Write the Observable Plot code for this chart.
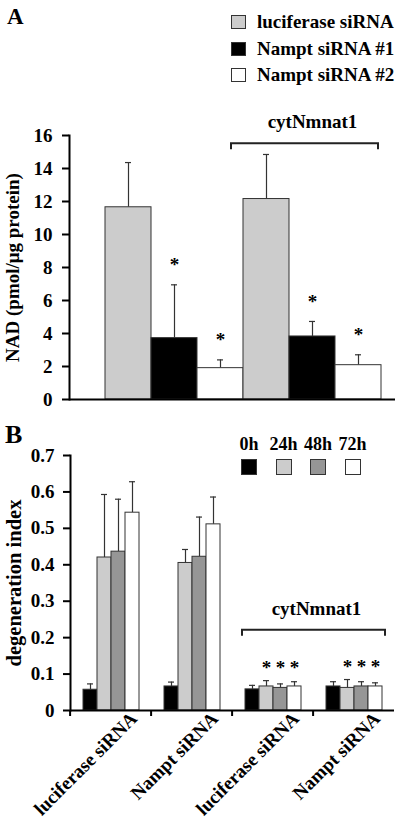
<!DOCTYPE html>
<html><head><meta charset="utf-8">
<script src="https://cdn.jsdelivr.net/npm/d3@7"></script>
<script src="https://cdn.jsdelivr.net/npm/@observablehq/plot@0.6"></script>
<style>
body{margin:0;background:#fff;}
#root{position:relative;width:400px;height:820px;overflow:hidden;font-family:"Liberation Serif","Times New Roman",serif;font-weight:bold;color:#000;}
#root > svg{position:absolute;left:0;}
.abs{position:absolute;white-space:nowrap;}
.sw{box-sizing:border-box;border:1px solid #333;}
</style></head><body><div id="root"></div>
<script>
const SERIF = '"Liberation Serif","Times New Roman",serif';

// ---------- Panel A data ----------
const panelLabelA = "A";
const seriesA = ["luciferase siRNA", "Nampt siRNA #1", "Nampt siRNA #2"];
const conditionsA = ["control", "cytNmnat1"];
const nadMean = [11.65, 3.72, 1.90, 12.15, 3.82, 2.08];
const nadErr  = [2.71, 3.23, 0.50, 2.70, 0.91, 0.63];
const nadSig  = [false, true, true, false, true, true];
const yTicksA = [0, 2, 4, 6, 8, 10, 12, 14, 16];
const yLabelA = "NAD (pmol/μg protein)";
const bracketLabel = "cytNmnat1";
const colorsA = ["#cccccc", "#000000", "#ffffff"];

// ---------- Panel B data ----------
const panelLabelB = "B";
const timesB = ["0h", "24h", "48h", "72h"];
const groupKeysB = ["ctl-luc", "ctl-nampt", "cyt-luc", "cyt-nampt"];
const groupLabelsB = ["luciferase siRNA", "Nampt siRNA", "luciferase siRNA", "Nampt siRNA"];
const degMean = [
  [0.057, 0.420, 0.436, 0.543],
  [0.066, 0.405, 0.422, 0.511],
  [0.058, 0.066, 0.062, 0.066],
  [0.066, 0.062, 0.066, 0.066]
];
const degErr = [
  [0.016, 0.173, 0.144, 0.085],
  [0.012, 0.037, 0.109, 0.075],
  [0.011, 0.016, 0.011, 0.013],
  [0.013, 0.023, 0.013, 0.010]
];
const degSig = [
  [false, false, false, false],
  [false, false, false, false],
  [false, true, true, true],
  [false, true, true, true]
];
const yTicksB = [0, 0.1, 0.2, 0.3, 0.4, 0.5, 0.6, 0.7];
const yLabelB = "degeneration index";
const colorsB = ["#000000", "#cccccc", "#969696", "#ffffff"];

// ---------- tables ----------
const dataA = conditionsA.flatMap((c, ci) => seriesA.map((s, si) => {
  const i = ci * seriesA.length + si;
  return {key: c + "|" + s, cond: c, series: s, mean: nadMean[i], err: nadErr[i], sig: nadSig[i]};
}));
const dataB = groupKeysB.flatMap((g, gi) => timesB.map((t, ti) => ({
  group: g, time: t, mean: degMean[gi][ti], err: degErr[gi][ti], sig: degSig[gi][ti]
})));
const sigB = dataB.filter(d => d.sig);
const starTopB = d => d3.max(sigB.filter(e => e.group === d.group), e => e.mean + e.err);

const root = document.getElementById("root");
const baseStyle = {fontFamily: SERIF, fontSize: "19px", fontWeight: "bold", background: "transparent", overflow: "visible"};

function bracketNode(x1, x2, y, label, labelDx) {
  const g = d3.create("svg:g");
  g.append("path")
    .attr("d", `M${x1},${y + 6}V${y}H${x2}V${y + 6}`)
    .attr("fill", "none").attr("stroke", "#222").attr("stroke-width", 2);
  g.append("text")
    .attr("x", (x1 + x2) / 2 + labelDx).attr("y", y - 15)
    .attr("text-anchor", "middle").attr("font-size", 19).attr("font-weight", "bold")
    .attr("fill", "#000").text(label);
  return g.node();
}

// ---------- Panel A ----------
const cytA = dataA.filter(d => d.cond === "cytNmnat1");
const plotA = Plot.plot({
  width: 400, height: 410,
  marginTop: 135, marginBottom: 11, marginLeft: 69, marginRight: 5,
  style: baseStyle,
  x: {type: "band", domain: dataA.map(d => d.key), range: [103, 382], padding: 0, axis: null},
  y: {domain: [0, 16], axis: null},
  color: {domain: seriesA, range: colorsA},
  marks: [
    Plot.ruleX(dataA, {x: "key", y1: "mean", y2: d => d.mean + d.err, stroke: "#333", strokeWidth: 1.2}),
    Plot.tickY(dataA, {x: "key", y: d => d.mean + d.err, stroke: "#333", strokeWidth: 1.2, insetLeft: 20, insetRight: 20}),
    Plot.barY(dataA, {x: "key", y: "mean", fill: "series", stroke: "#333", strokeWidth: 1}),
    Plot.text(dataA.filter(d => d.sig), {x: "key", y: d => d.mean + d.err, text: () => "*", dy: -20, fontSize: 19}),
    Plot.ruleY([0], {strokeWidth: 2}),
    Plot.frame({anchor: "left", strokeWidth: 2}),
    Plot.axisY({ticks: yTicksA, tickFormat: d => String(d), tickSize: 7, tickPadding: 10, strokeWidth: 2,
      label: yLabelA, labelAnchor: "center", labelOffset: 64, labelArrow: "none"}),
    Plot.frame({stroke: "none", render: (index, scales) => {
      const x = scales.x;
      const k0 = cytA[0].key, k1 = cytA[1].key, kN = cytA[cytA.length - 1].key;
      const bw = x(k1) - x(k0);
      return bracketNode(x(k0) - 12, x(kN) + bw - 3, scales.y(15.5), bracketLabel, 8);
    }})
  ]
});
plotA.style.top = "0px";
root.appendChild(plotA);

// ---------- Panel B ----------
const plotB = Plot.plot({
  width: 400, height: 400,
  marginTop: 35, marginBottom: 110, marginLeft: 68, marginRight: 5,
  style: baseStyle,
  fx: {domain: groupKeysB, padding: 0, label: null},
  x: {domain: timesB, paddingInner: 0, paddingOuter: 0.7, axis: null},
  y: {domain: [0, 0.7], axis: null},
  color: {domain: timesB, range: colorsB},
  marks: [
    Plot.ruleX(dataB, {fx: "group", x: "time", y1: "mean", y2: d => d.mean + d.err, stroke: "#333", strokeWidth: 1.2}),
    Plot.tickY(dataB, {fx: "group", x: "time", y: d => d.mean + d.err, stroke: "#333", strokeWidth: 1.2, insetLeft: 4, insetRight: 4}),
    Plot.barY(dataB, {fx: "group", x: "time", y: "mean", fill: "time", stroke: "#333", strokeWidth: 1}),
    Plot.text(sigB, {fx: "group", x: "time", y: starTopB, text: () => "*", dy: -13, fontSize: 19}),
    Plot.ruleY([0], {strokeWidth: 2}),
    Plot.frame({anchor: "left", strokeWidth: 2, facetAnchor: "left"}),
    Plot.axisY({ticks: yTicksB, tickFormat: d => d === 0 ? "0" : d.toFixed(1), tickSize: 7, tickPadding: 9, strokeWidth: 2,
      label: null}),
    Plot.axisY({ticks: [], label: yLabelB, labelAnchor: "center", labelOffset: 64, labelArrow: "none", fontSize: 20.5, dy: -6}),
    Plot.axisFx({anchor: "bottom", tickSize: 6, tickFormat: () => "", dx: -40.9, strokeWidth: 2, label: null}),
    Plot.axisFx({anchor: "bottom", tickSize: 0, tickPadding: 0, tickRotate: -45,
      tickFormat: k => groupLabelsB[groupKeysB.indexOf(k)], dx: 23, dy: 5, fontSize: 19, label: null}),
    Plot.frame({stroke: "none", facet: "super", render: (index, scales, values, dims) => {
      const fx = scales.fx, x = scales.x;
      const ml = dims.marginLeft;
      const bw = x(timesB[1]) - x(timesB[0]);
      const x1 = fx(groupKeysB[2]) - ml + x(timesB[0]) - 1;
      const x2 = fx(groupKeysB[3]) - ml + x(timesB[3]) + bw + 5;
      return bracketNode(x1, x2, scales.y(0.22), bracketLabel, 3);
    }})
  ]
});
plotB.style.top = "420px";
root.appendChild(plotB);

// ---------- HTML legends and panel letters ----------
function addDiv(html, css) {
  const d = document.createElement("div");
  d.className = "abs";
  d.style.cssText += css;
  d.innerHTML = html;
  root.appendChild(d);
  return d;
}
addDiv(panelLabelA, "left:7px;top:5px;font-size:23px;line-height:23px;");
addDiv(panelLabelB, "left:5px;top:422px;font-size:26px;line-height:26px;");

seriesA.forEach((s, i) => {
  const cy = 22 + i * 26.5;
  const row = addDiv("", `left:231px;top:${cy - 13}px;height:26px;display:flex;align-items:center;font-size:19px;`);
  const sw = document.createElement("div");
  sw.className = "sw";
  sw.style.cssText = `width:15px;height:14px;background:${colorsA[i]};margin-right:11px;`;
  row.appendChild(sw);
  const t = document.createElement("span");
  t.textContent = s;
  row.appendChild(t);
});

timesB.forEach((t, i) => {
  const cx = 249 + i * 34.5;
  addDiv(t, `left:${cx - 20}px;width:40px;text-align:center;top:434px;font-size:18px;line-height:20px;`);
  addDiv("", `left:${cx - 8}px;top:459px;width:16px;height:16px;background:${colorsB[i]};border:1px solid #333;box-sizing:border-box;`);
});
</script>
</body></html>
